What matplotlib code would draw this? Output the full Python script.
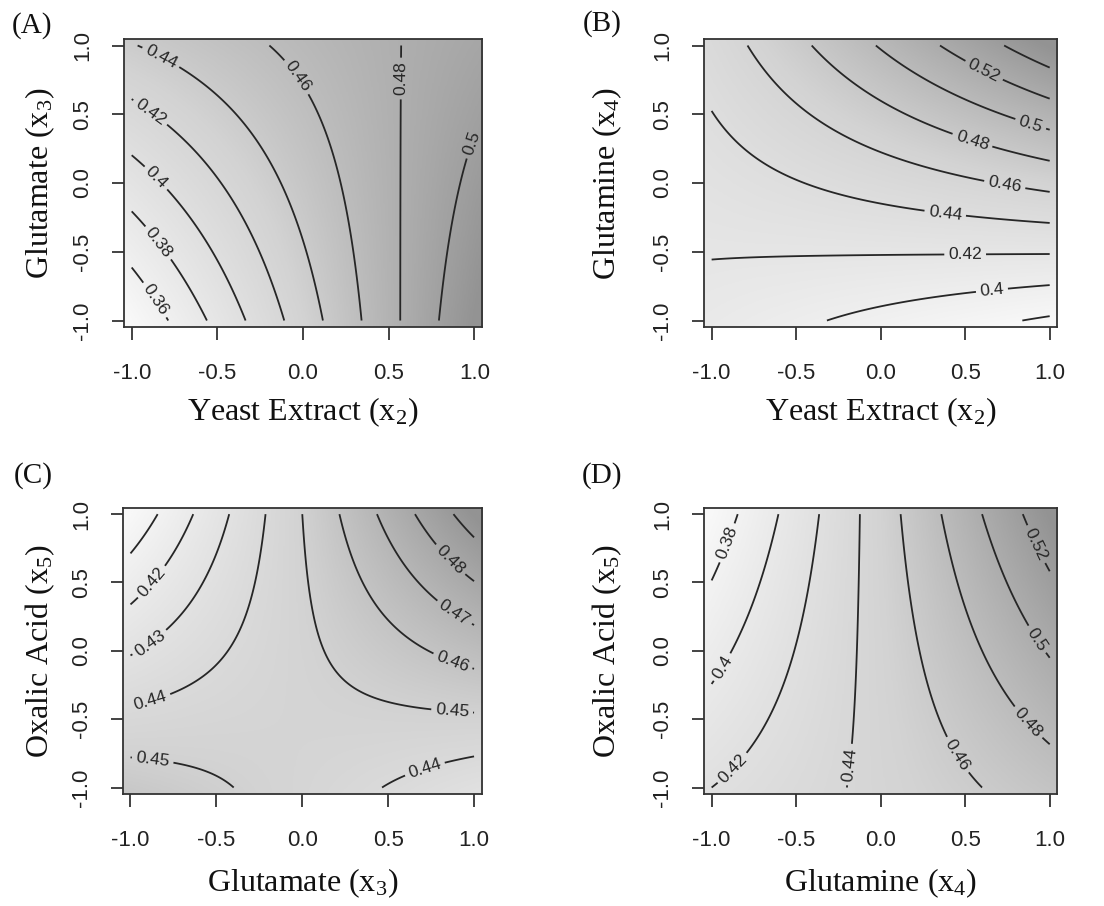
import numpy as np
import matplotlib
matplotlib.use("Agg")
import matplotlib.pyplot as plt
from matplotlib.colors import LinearSegmentedColormap

# -------------------------------------------------------------------------
# Data: fitted response-surface coefficients
# order: [intercept, x, y, x*y, x^2, y^2]
# -------------------------------------------------------------------------

coef_a = [0.4474, 0.0573, 0.0177, -0.0313, 0.0, 0.0]
coef_b = [0.4480, 0.0177, 0.0535, 0.0350, 0.0, 0.0]
coef_c = [0.4478, 0.0175, 0.0022, 0.0290, -0.0012, 0.0]
coef_d = [0.4476, 0.0540, 0.0026, 0.0290, 0.0, 0.0]

levels_a = [0.36, 0.38, 0.40, 0.42, 0.44, 0.46, 0.48, 0.50]
levels_b = [0.38, 0.40, 0.42, 0.44, 0.46, 0.48, 0.50, 0.52, 0.54]
levels_c = [0.41, 0.42, 0.43, 0.44, 0.45, 0.46, 0.47, 0.48, 0.49]
levels_d = [0.38, 0.40, 0.42, 0.44, 0.46, 0.48, 0.50, 0.52]

ticks = [-1.0, -0.5, 0.0, 0.5, 1.0]

xlabels = ["Yeast Extract (x$_2$)", "Yeast Extract (x$_2$)",
           "Glutamate (x$_3$)", "Glutamine (x$_4$)"]
ylabels = ["Glutamate (x$_3$)", "Glutamine (x$_4$)",
           "Oxalic Acid (x$_5$)", "Oxalic Acid (x$_5$)"]
panel_tags = ["(A)", "(B)", "(C)", "(D)"]

# where the contour labels sit (layout only)
label_pos_a = [(-0.90, -0.88), (-0.86, -0.45), (-0.88, 0.01), (-0.90, 0.50),
               (-0.84, 0.89), (-0.06, 0.75), (0.56, 0.76), (0.96, 0.30)]
label_pos_b = [(0.60, 0.79), (0.88, 0.40), (0.54, 0.30), (0.73, -0.04),
               (0.38, -0.24), (0.50, -0.53), (0.66, -0.80)]
label_pos_c = [(-0.91, 0.54), (-0.90, 0.08), (-0.89, -0.34), (-0.87, -0.79),
               (0.84, 0.64), (0.87, 0.25), (0.86, -0.13), (0.87, -0.48),
               (0.72, -0.89)]
label_pos_d = [(-0.93, 0.80), (-0.95, -0.11), (-0.90, -0.83), (-0.20, -0.83),
               (0.43, -0.78), (0.84, -0.56), (0.92, 0.08), (0.92, 0.78)]

plt.rcParams["font.family"] = "Liberation Sans"
plt.rcParams["mathtext.default"] = "regular"
plt.rcParams["axes.unicode_minus"] = False

grey = LinearSegmentedColormap.from_list(
    "grey", ["#f8f8f8", "#d3d3d3", "#939393"])
SERIF = "Liberation Serif"
LIM = 1.045


def surface(coef, x, y):
    a, bx, by, bxy, bxx, byy = coef
    return a + bx * x + by * y + bxy * x * y + bxx * x ** 2 + byy * y ** 2


def draw_panel(ax, coef, levels, label_pos, xlab, ylab, xlab_y, ylab_x):
    # background shading
    g = np.linspace(-LIM, LIM, 300)
    gx, gy = np.meshgrid(g, g)
    zfill = surface(coef, gx, gy)
    c = np.linspace(-1, 1, 201)
    cx, cy = np.meshgrid(c, c)
    z = surface(coef, cx, cy)
    ax.imshow(zfill, extent=[-LIM, LIM, -LIM, LIM], origin="lower",
              cmap=grey, vmin=z.min(), vmax=z.max(), aspect="auto",
              interpolation="bilinear")

    cs = ax.contour(cx, cy, z, levels=levels, colors="#262626", linewidths=1.3)
    ax.clabel(cs, manual=label_pos, inline=True,
              inline_spacing=4, fontsize=12.5, colors="#262626",
              fmt=lambda v: f"{v:g}")

    ax.set_xlim(-LIM, LIM)
    ax.set_ylim(-LIM, LIM)
    ax.set_xticks(ticks)
    ax.set_yticks(ticks)
    ax.set_xticklabels([f"{t:.1f}" for t in ticks])
    ax.set_yticklabels([f"{t:.1f}" for t in ticks])
    ax.tick_params(direction="out", length=9, width=1.2, labelsize=16,
                   colors="#222222")
    ax.tick_params(axis="x", pad=17)
    ax.tick_params(axis="y", pad=13)
    for lab in ax.get_yticklabels():
        lab.set_rotation(90)
        lab.set_va("center")
    for sp in ax.spines.values():
        sp.set_linewidth(1.3)
        sp.set_color("#333333")

    ax.text(0.5, xlab_y, xlab, transform=ax.transAxes, ha="center",
            va="center", fontsize=23, family=SERIF, color="#111111")
    ax.text(ylab_x, 0.5, ylab, transform=ax.transAxes, ha="center",
            va="center", rotation=90, fontsize=23, family=SERIF,
            color="#111111")


fig = plt.figure(figsize=(11.04, 9.06), dpi=100)

axes_boxes = [
    [0.1123, 0.6394, 0.3243, 0.3172],
    [0.6377, 0.6394, 0.3200, 0.3172],
    [0.1112, 0.1240, 0.3252, 0.3153],
    [0.6377, 0.1240, 0.3200, 0.3153],
]
coefs = [coef_a, coef_b, coef_c, coef_d]
levels_all = [levels_a, levels_b, levels_c, levels_d]
positions = [label_pos_a, label_pos_b, label_pos_c, label_pos_d]
xlab_ys = [-0.297, -0.297, -0.313, -0.313]
ylab_xs = [-0.235, -0.275, -0.23, -0.275]
tag_xy = [(32, 26), (602, 24), (33, 476), (602, 476)]

for i in range(4):
    ax = fig.add_axes(axes_boxes[i])
    draw_panel(ax, coefs[i], levels_all[i], positions[i],
               xlabels[i], ylabels[i], xlab_ys[i], ylab_xs[i])
    tx, ty = tag_xy[i]
    fig.text(tx / 1104, 1 - ty / 906, panel_tags[i], ha="center", va="center",
             fontsize=21, family=SERIF, color="#111111")

fig.savefig("out.png", dpi=100)
